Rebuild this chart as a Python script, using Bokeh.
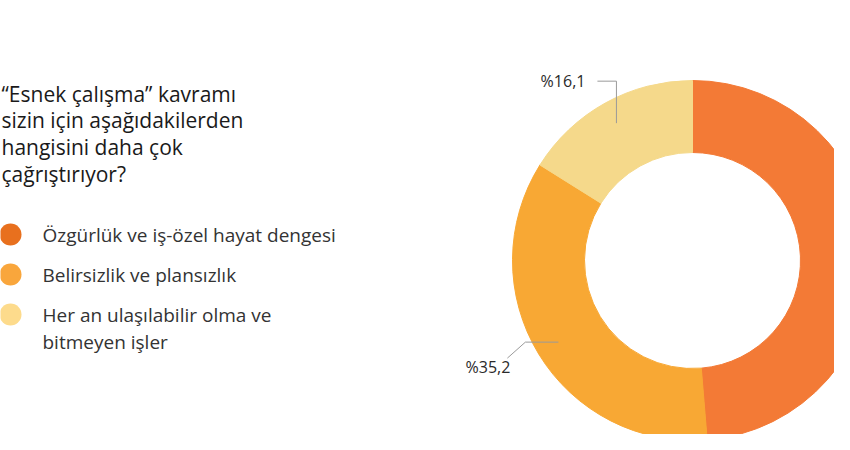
import numpy as np
from bokeh.plotting import figure
from bokeh.models import Range1d, ColumnDataSource
from bokeh.core.properties import value
from bokeh.embed import file_html
from bokeh.resources import INLINE

# ---- data ----
title_lines = ["“Esnek çalışma” kavramı", "sizin için aşağıdakilerden",
               "hangisini daha çok", "çağrıştırıyor?"]
categories = ["Özgürlük ve iş-özel hayat dengesi", "Belirsizlik ve plansızlık",
              "Her an ulaşılabilir olma ve\nbitmeyen işler"]
values = [48.7, 35.2, 16.1]
slice_colors = ["#F37A36", "#F8A834", "#F5D98B"]
legend_colors = ["#E8701E", "#F9A63C", "#FDDB8C"]

FONT = "Open Sans"
W, H = 834, 434
p = figure(width=W, height=H, x_range=Range1d(0, W), y_range=Range1d(0, H),
           output_backend="svg", toolbar_location=None, min_border=0)
p.axis.visible = False
p.grid.visible = False
p.outline_line_color = None
p.background_fill_color = "white"
p.border_fill_color = "white"


def sy(y):
    return H - y


# ---- donut ----
cx, cy = 692, sy(260)
vals = np.array(values, dtype=float)
frac = vals / vals.sum()
cum = np.cumsum(frac)
prev = cum - frac
start = np.pi / 2 - 2 * np.pi * prev
end = np.pi / 2 - 2 * np.pi * cum
src = ColumnDataSource(dict(start=start, end=end, color=slice_colors))
p.annular_wedge(x=cx, y=cy, inner_radius=108, outer_radius=180, start_angle="start",
                end_angle="end", direction="clock", color="color", line_color="color",
                source=src)

# ---- percent labels with leader lines ----
mid = np.pi / 2 - 2 * np.pi * (prev + frac / 2)
r_lab = 157
ax = cx + r_lab * np.cos(mid)
ay = cy + r_lab * np.sin(mid)
labels = ["%" + f"{v:.1f}".replace(".", ",") for v in values]

# slice 1 (left-bottom): horizontal left, then diagonal down-left
i = 1
p.line([ax[i], ax[i] - 33, ax[i] - 51], [ay[i], ay[i], ay[i] - 16], line_color="#9a9a9a", line_width=1)
p.text(x=[ax[i] - 48], y=[ay[i] - 25], text=[labels[i]], text_align="right", text_baseline="middle",
       text_font=value(FONT), text_font_size="16px", text_color="#2a2a2a")
# slice 2 (top-left): vertical up, then horizontal left
i = 2
p.line([ax[i], ax[i], ax[i] - 19], [ay[i], ay[i] + 42, ay[i] + 42], line_color="#9a9a9a", line_width=1)
p.text(x=[ax[i] - 31], y=[ay[i] + 42], text=[labels[i]], text_align="right", text_baseline="middle",
       text_font=value(FONT), text_font_size="16px", text_color="#2a2a2a")

# ---- title ----
ty = [sy(93 + 26.7 * k) for k in range(len(title_lines))]
p.text(x=[1] * len(title_lines), y=ty, text=title_lines, text_align="left", text_baseline="middle",
       text_font=value(FONT), text_font_size="21px", text_color="#1a1a1a")

# ---- legend ----
ly = [sy(234 + 40 * k) for k in range(len(categories))]
p.scatter(x=[10] * len(categories), y=ly, size=22, marker="circle", fill_color=legend_colors,
          line_color=None)
tx, tyy, tt = [], [], []
for k, c in enumerate(categories):
    for j, part in enumerate(c.split("\n")):
        tx.append(42)
        tyy.append(ly[k] - 27 * j)
        tt.append(part)
p.text(x=tx, y=tyy, text=tt, text_align="left", text_baseline="middle",
       text_font=value(FONT), text_font_size="19px", text_color="#333333")

open("out.html", "w").write(file_html(p, INLINE))
